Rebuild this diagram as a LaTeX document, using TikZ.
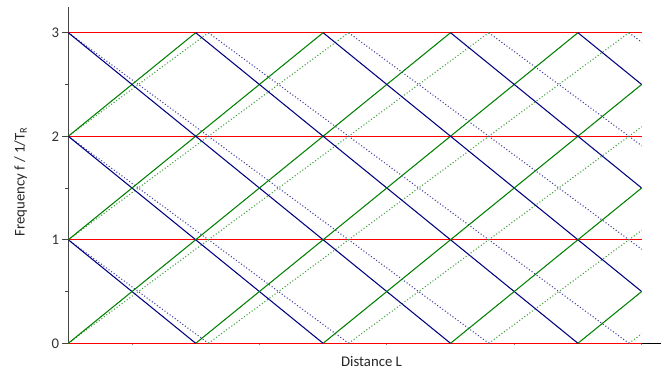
\documentclass[tikz,border=0pt]{standalone}
\usepackage{fontspec}
\setmainfont{Carlito}
\definecolor{navyline}{RGB}{0,0,128}
\definecolor{greenline}{RGB}{0,128,0}
\definecolor{axisgray}{RGB}{70,70,70}

\begin{document}
\begin{tikzpicture}[x=3.185cm,y=2.588cm,
    font=\fontsize{10.5}{12}\selectfont,
    level/.style={red,line width=1pt},
    down/.style={navyline,line width=0.75pt},
    up/.style={greenline,line width=0.75pt},
    downdot/.style={navyline!75!white,line width=0.75pt,dash pattern=on 0.75pt off 1.5pt},
    updot/.style={greenline!75!white,line width=0.75pt,dash pattern=on 0.75pt off 1.5pt}]
  \useasboundingbox (-0.536,-0.2676) rectangle (4.652,3.316);
  % axes and ticks
  \draw[black,line width=0.9pt] (0,0) -- (4.652,0);
  \draw[axisgray,line width=0.9pt] (0,0) -- (0,3.25);
  \foreach \n in {0,...,3}
    \draw[axisgray,line width=0.7pt] (0,\n) -- (-0.047,\n)
      node[left,inner sep=2pt,text=black!80] (lab\n) {\n};
  \foreach \n in {0.5,1.5,2.5}
    \draw[axisgray,line width=0.7pt] (0,\n) -- (-0.024,\n);
  \foreach \n in {0.5,1.5,...,4.5}
    \draw[gray,line width=0.6pt] (\n,0) -- (\n,-0.02);
  % frequency levels
  \foreach \n in {0,...,3}
    \draw[level] (0,\n) -- (4.5,\n);
  % zig-zag paths, dotted ones with the longer period
  \begin{scope}
    \clip (0,-0.02) rectangle (4.5,3.02);
    \foreach \c in {1,...,7} {
      \draw[downdot] ({1.1*(\c-3)},3) -- ({1.1*\c},0);
      \draw[updot] ({1.1*(\c-3)},0) -- ({1.1*\c},3);
    }
    \foreach \c in {1,...,7} {
      \draw[down] (\c-3,3) -- (\c,0);
      \draw[up] (\c-3,0) -- (\c,3);
    }
  \end{scope}
  \node[rotate=90,text=black!85] (ylab) at (-0.374,1.56) {Frequency f / 1/T\textsubscript{R}};
  \node[text=black!85] (xlab) at (2.38,-0.18) {Distance L};
\end{tikzpicture}
\end{document}
